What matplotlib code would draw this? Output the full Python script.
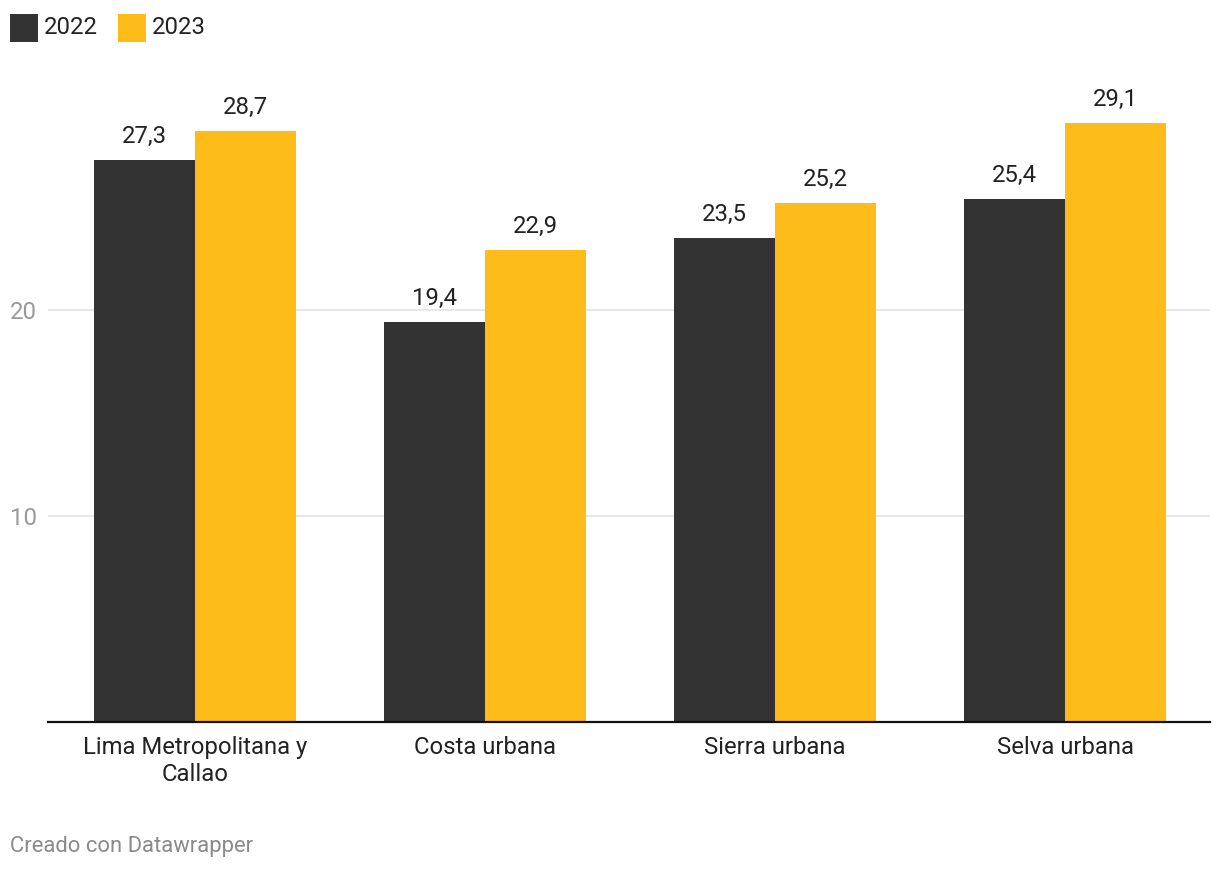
import matplotlib
matplotlib.use("Agg")
import matplotlib.pyplot as plt
from matplotlib.patches import Rectangle
import numpy as np

plt.rcParams['font.family'] = ['Roboto', 'DejaVu Sans']

categories = ["Lima Metropolitana y\nCallao", "Costa urbana", "Sierra urbana", "Selva urbana"]
series_names = ["2022", "2023"]
values_2022 = [27.3, 19.4, 23.5, 25.4]
values_2023 = [28.7, 22.9, 25.2, 29.1]
yticks = [10, 20]

c_dark = "#333333"
c_yel = "#fdbc1a"

W, H = 1220, 872
fig = plt.figure(figsize=(W/100, H/100), dpi=100)
ax_l, ax_r, ax_b, ax_t = 48, 1210, 722, 104
ax = fig.add_axes([ax_l/W, 1 - ax_b/H, (ax_r-ax_l)/W, (ax_b-ax_t)/H])

x = np.arange(len(categories))
bw = 0.349
ax.bar(x - bw/2, values_2022, width=bw, color=c_dark, zorder=3)
ax.bar(x + bw/2, values_2023, width=bw, color=c_yel, zorder=3)

def fmt(v):
    return f"{v:.1f}".replace(".", ",")

fs = 17.2
for xi, v in zip(x - bw/2, values_2022):
    ax.annotate(fmt(v), (xi, v), xytext=(0, 12), textcoords="offset pixels",
                ha="center", va="bottom", fontsize=fs, color="#222222")
for xi, v in zip(x + bw/2, values_2023):
    ax.annotate(fmt(v), (xi, v), xytext=(0, 12), textcoords="offset pixels",
                ha="center", va="bottom", fontsize=fs, color="#222222")

ax.set_xlim(-0.507, 3.5)
ax.set_ylim(0, 30)
for s in ["top", "right", "left"]:
    ax.spines[s].set_visible(False)
ax.spines["bottom"].set_color("#111111")
ax.spines["bottom"].set_linewidth(1.6)
ax.spines["bottom"].set_zorder(4)

ax.set_yticks(yticks)
ax.set_yticklabels([str(t) for t in yticks], fontsize=fs, color="#9a9a9a")
ax.tick_params(axis="y", length=0, pad=8)
ax.yaxis.grid(True, color="#e3e3e3", linewidth=1.2, zorder=0)

ax.set_xticks(x)
ax.set_xticklabels(categories, fontsize=fs, color="#222222", linespacing=1.25)
ax.tick_params(axis="x", length=0, pad=10)

# legend
def px(xp, yp):
    return xp / W, 1 - yp / H
for sx, tx, col, name in [(10, 44, c_dark, series_names[0]), (118, 152, c_yel, series_names[1])]:
    fig.patches.append(Rectangle(px(sx, 42), 28/W, 28/H, transform=fig.transFigure,
                                 facecolor=col, edgecolor="none"))
    fig.text(*px(tx, 27), name, fontsize=fs, color="#222222", va="center", ha="left")

fig.text(*px(10, 846), "Creado con Datawrapper", fontsize=15.8, color="#8a8a8a",
         va="center", ha="left")

fig.savefig("out.png", dpi=100, facecolor="white")
